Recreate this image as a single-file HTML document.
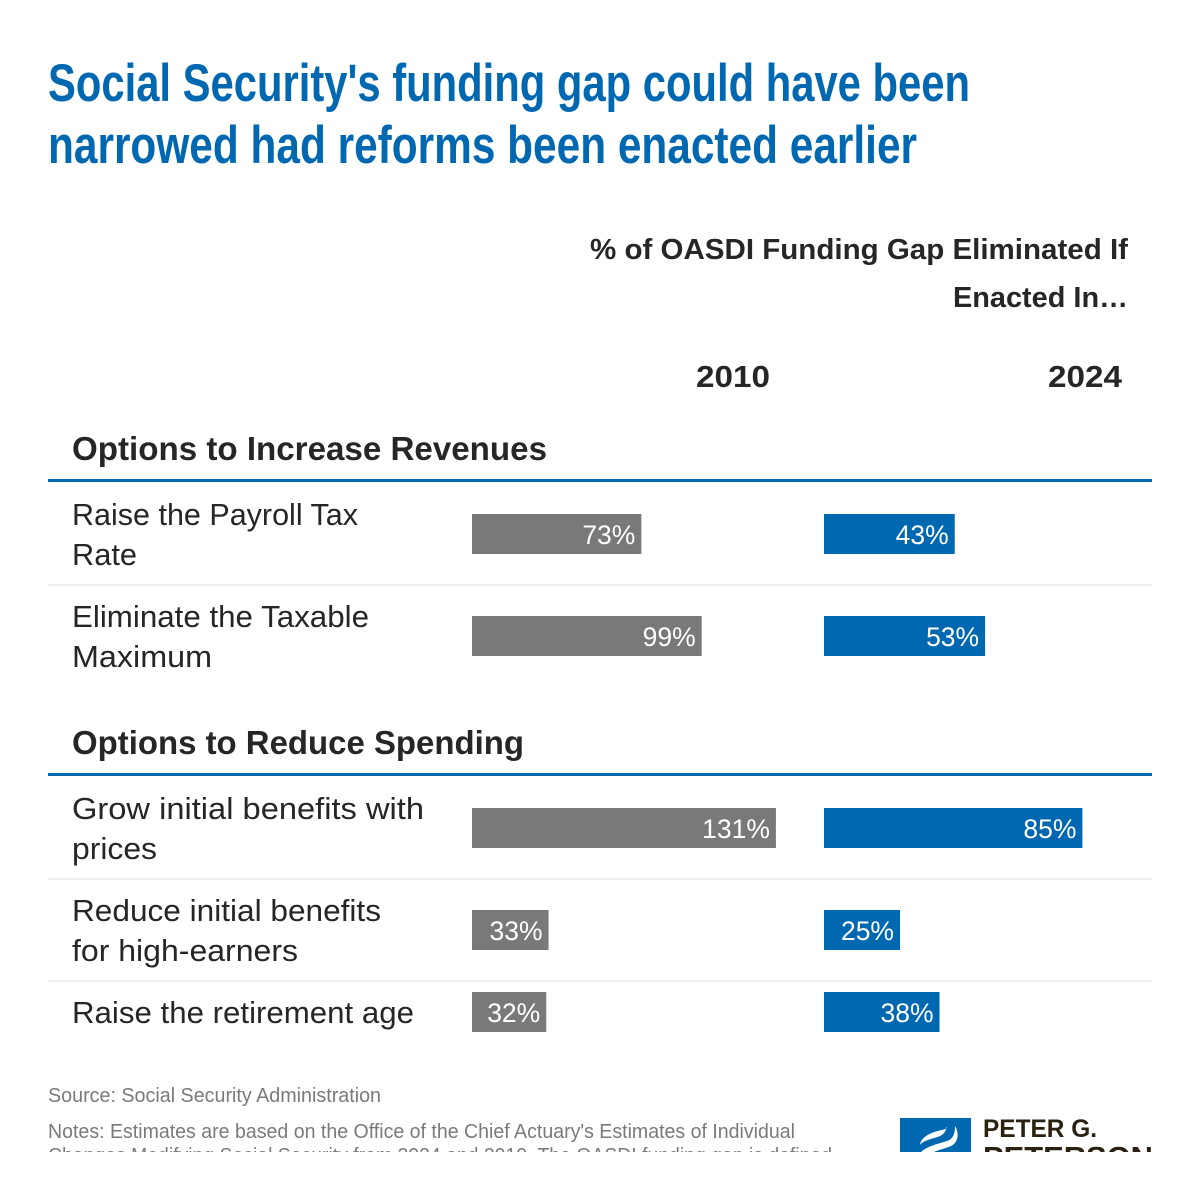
<!DOCTYPE html>
<html lang="en">
<head>
<meta charset="utf-8">
<title>Social Security funding gap</title>
<style>
  html, body { margin: 0; padding: 0; background: #fff; }
  svg { display: block; font-family: "Liberation Sans", sans-serif; }
  .title { font-size: 53px; font-weight: 700; fill: #0067b1; }
  .head { font-size: 29px; font-weight: 700; fill: #262626; }
  .year { font-size: 31px; font-weight: 700; fill: #262626; }
  .section { font-size: 33px; font-weight: 700; fill: #262626; }
  .row { font-size: 31px; fill: #262626; }
  .foot { font-size: 20px; fill: #7a7a7a; }
  .val { font-size: 26.5px; fill: #fff; text-anchor: end; }
  .logo { font-weight: 700; fill: #2a2110; }
</style>
</head>
<body>
<svg id="chart" width="1200" height="1200" viewBox="0 0 1200 1200" xmlns="http://www.w3.org/2000/svg">
  <defs>
    <clipPath id="foot-clip"><rect x="0" y="1060" width="1200" height="92"></rect></clipPath>
  </defs>
  <rect width="1200" height="1200" fill="#fff"></rect>

  <text class="title" x="48" y="101" textLength="922" lengthAdjust="spacingAndGlyphs">Social Security's funding gap could have been</text>
  <text class="title" x="48" y="163" textLength="869" lengthAdjust="spacingAndGlyphs">narrowed had reforms been enacted earlier</text>

  <text class="head" x="590" y="259" textLength="538" lengthAdjust="spacingAndGlyphs">% of OASDI Funding Gap Eliminated If</text>
  <text class="head" x="953" y="307" textLength="175" lengthAdjust="spacingAndGlyphs">Enacted In…</text>
  <text class="year" x="696" y="387" textLength="74" lengthAdjust="spacingAndGlyphs">2010</text>
  <text class="year" x="1048" y="387" textLength="74" lengthAdjust="spacingAndGlyphs">2024</text>

  <text class="section" x="72" y="460" textLength="475" lengthAdjust="spacingAndGlyphs">Options to Increase Revenues</text>
  <rect x="48" y="479" width="1104" height="3" fill="#0067b1"></rect>
  <text class="section" x="72" y="754" textLength="452" lengthAdjust="spacingAndGlyphs">Options to Reduce Spending</text>
  <rect x="48" y="773" width="1104" height="3" fill="#0067b1"></rect>

  <rect x="48" y="584" width="1104" height="2" fill="#eeeeee"></rect>
  <rect x="48" y="878" width="1104" height="2" fill="#eeeeee"></rect>
  <rect x="48" y="980" width="1104" height="2" fill="#eeeeee"></rect>

  <text class="row" x="72" y="525" textLength="286" lengthAdjust="spacingAndGlyphs">Raise the Payroll Tax</text>
  <text class="row" x="72" y="565" textLength="65" lengthAdjust="spacingAndGlyphs">Rate</text>
  <text class="row" x="72" y="627" textLength="297" lengthAdjust="spacingAndGlyphs">Eliminate the Taxable</text>
  <text class="row" x="72" y="667" textLength="140" lengthAdjust="spacingAndGlyphs">Maximum</text>
  <text class="row" x="72" y="819" textLength="352" lengthAdjust="spacingAndGlyphs">Grow initial benefits with</text>
  <text class="row" x="72" y="859" textLength="85" lengthAdjust="spacingAndGlyphs">prices</text>
  <text class="row" x="72" y="921" textLength="309" lengthAdjust="spacingAndGlyphs">Reduce initial benefits</text>
  <text class="row" x="72" y="961" textLength="226" lengthAdjust="spacingAndGlyphs">for high-earners</text>
  <text class="row" x="72" y="1023" textLength="342" lengthAdjust="spacingAndGlyphs">Raise the retirement age</text>

  <g id="bars"></g>

  <g clip-path="url(#foot-clip)">
    <text class="foot" x="48" y="1102" textLength="333" lengthAdjust="spacingAndGlyphs">Source: Social Security Administration</text>
    <text class="foot" x="48" y="1138" textLength="747" lengthAdjust="spacingAndGlyphs">Notes: Estimates are based on the Office of the Chief Actuary's Estimates of Individual</text>
    <text class="foot" x="48" y="1162" textLength="784" lengthAdjust="spacingAndGlyphs">Changes Modifying Social Security from 2024 and 2010. The OASDI funding gap is defined</text>
    <rect x="900" y="1118" width="71" height="40" fill="#0067b1"></rect>
    <path d="M920 1145 C921 1137 931 1132 942 1130 C946 1129 948 1128 946 1127 C947 1133 940 1137 934 1138 C928 1140 923 1141 920 1145 Z" fill="#fff"></path>
    <path d="M921 1152 C927 1146 938 1144 947 1141 C953 1139 955 1134 955 1126 C959 1132 959 1142 951 1146 C942 1150 934 1150 929 1156 Z" fill="#fff"></path>
    <text class="logo" x="983" y="1137" font-size="25" textLength="114" lengthAdjust="spacingAndGlyphs">PETER G.</text>
    <text class="logo" x="983" y="1167" font-size="29" textLength="170" lengthAdjust="spacingAndGlyphs">PETERSON</text>
  </g>
</svg>
<script>
const categories = ["Raise the Payroll Tax Rate", "Eliminate the Taxable Maximum", "Grow initial benefits with prices", "Reduce initial benefits for high-earners", "Raise the retirement age"];
const values2010 = [73, 99, 131, 33, 32];
const values2024 = [43, 53, 85, 25, 38];
const rowLineCounts = [2, 2, 2, 2, 1];
const rowSections = [0, 0, 1, 1, 1];

const SVG_NS = "http://www.w3.org/2000/svg";
const barHeight = 40;
const linePitch = 40;
const rowPad = 11;

function axis2010(v) { return v * 2.32; }
function axis2024(v) { return v * 3.04; }
function sectionTop(s) { return s === 0 ? 483 : 777; }

function barCenterY(i) {
  let top = sectionTop(rowSections[i]);
  for (let k = 0; k < i; k++) {
    if (rowSections[k] === rowSections[i]) {
      top += rowPad * 2 + rowLineCounts[k] * linePitch;
    }
  }
  return top + rowPad + rowLineCounts[i] * linePitch / 2;
}

function drawSeries(values, originX, axis, color, seriesName) {
  const group = document.getElementById("bars");
  values.forEach(function (v, i) {
    const w = axis(v);
    const y = barCenterY(i) - barHeight / 2;

    const bar = document.createElementNS(SVG_NS, "rect");
    
    
    bar.setAttribute("aria-label", categories[i] + " " + seriesName + ": " + v + "%");
    bar.setAttribute("x", originX);
    bar.setAttribute("y", y);
    bar.setAttribute("width", w);
    bar.setAttribute("height", barHeight);
    bar.setAttribute("fill", color);
    group.appendChild(bar);

    const label = document.createElementNS(SVG_NS, "text");
    
    
    label.setAttribute("class", "val");
    label.setAttribute("x", originX + w - 6);
    label.setAttribute("y", y + 30);
    label.textContent = v + "%";
    group.appendChild(label);
  });
}

drawSeries(values2010, 472, axis2010, "#797979", "2010");
drawSeries(values2024, 824, axis2024, "#0067b1", "2024");
</script>
</body>
</html>
